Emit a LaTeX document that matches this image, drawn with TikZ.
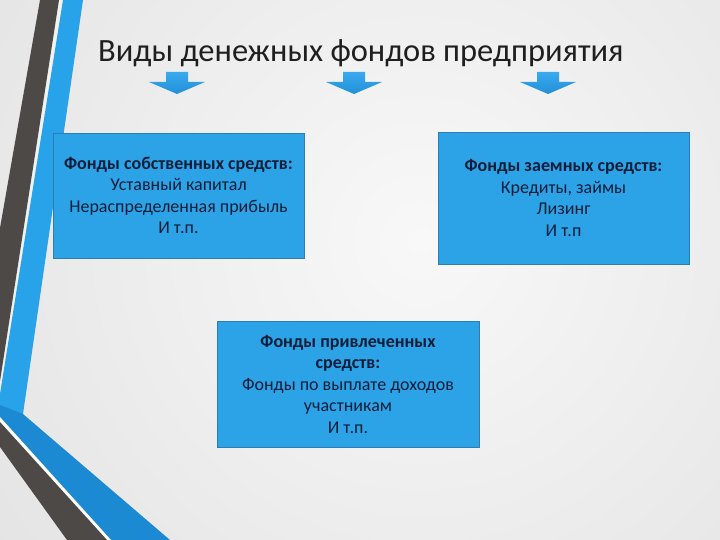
\documentclass[tikz,border=0pt]{standalone}
\usepackage{fontspec}
\setmainfont{Carlito}
\definecolor{bgin}{HTML}{F8F8F8}
\definecolor{bgout}{HTML}{D2D2D2}
\definecolor{dkstripe}{HTML}{4C4947}
\definecolor{blstripe}{HTML}{28A2E8}
\definecolor{blband}{HTML}{1C89D3}
\definecolor{boxfill}{HTML}{2CA3E6}
\definecolor{boxline}{HTML}{2A7DB5}
\definecolor{boxtext}{HTML}{0E1E3A}
\definecolor{arrtop}{HTML}{3AA9EE}
\definecolor{arrbot}{HTML}{2290D8}
\tikzset{
  fundbox/.style={draw=boxline, line width=0.8pt, fill=boxfill, inner sep=0pt,
    align=center, text=boxtext, font=\fontsize{18}{21.5}\selectfont},
  titletext/.style={font=\fontsize{32.5}{38}\selectfont, text=black!88, inner sep=0pt},
  downarrow/.style={top color=arrtop, bottom color=arrbot, draw=none}
}
\begin{document}
\begin{tikzpicture}[x=1pt,y=-1pt]
\useasboundingbox (0,0) rectangle (720,540);
\begin{scope}
  \clip (0,0) rectangle (720,540);
  \shade[inner color=bgin, outer color=bgout] (420,240) circle (1000);
  % decorative stripes
  \fill[white!90!gray] (57,0) -- (65,0) -- (0,400) -- (0,378) -- cycle;
  \fill[dkstripe] (40,0) -- (59,0) -- (0,381) -- (0,228) -- cycle;
  \fill[blstripe] (63,0) -- (83,0) -- (23,414) -- (0,418) -- (0,394) -- cycle;
  \fill[blband] (0,405) -- (23,414) -- (170,540) -- (110,540) -- (0,418) -- cycle;
  \fill[white] (0,417) -- (111,540) -- (106,540) -- (0,424) -- cycle;
  \fill[dkstripe] (0,422) -- (107,540) -- (67,540) -- (0,447) -- cycle;
\end{scope}

\node[titletext, anchor=base west] (title) at (98,62) {Виды денежных фондов предприятия};

\foreach \cx in {177,354,548}{
  \path[downarrow] (\cx-11,72) -- (\cx+11,72) -- (\cx+11,82) -- (\cx+28,82)
    -- (\cx,94) -- (\cx-28,82) -- (\cx-11,82) -- cycle;
}

\node[fundbox, minimum width=251pt, minimum height=125pt] (own) at (178.5,195.5)
  {\textbf{Фонды собственных средств:}\\Уставный капитал\\Нераспределенная прибыль\\И т.п.};
\node[fundbox, minimum width=251pt, minimum height=132pt] (borrowed) at (563.5,198)
  {\textbf{Фонды заемных средств:}\\Кредиты, займы\\Лизинг\\И т.п};
\node[fundbox, minimum width=262pt, minimum height=126pt] (attracted) at (348,384)
  {\textbf{Фонды привлеченных}\\\textbf{средств:}\\Фонды по выплате доходов\\участникам\\И т.п.};
\end{tikzpicture}
\end{document}
